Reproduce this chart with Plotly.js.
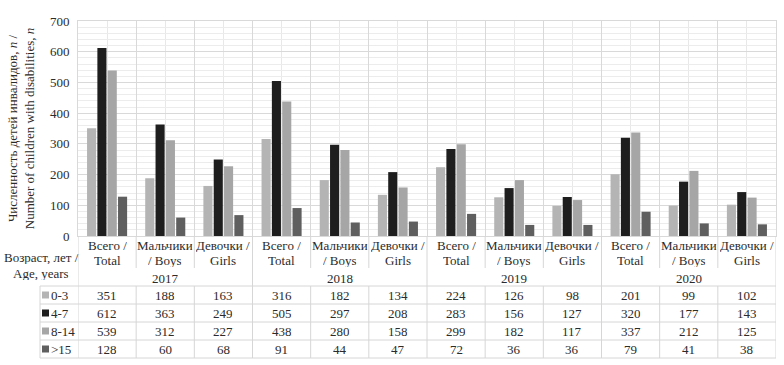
<!DOCTYPE html>
<html><head><meta charset="utf-8">
<script src="https://cdn.plot.ly/plotly-3.0.1.min.js"></script>
<style>html,body{margin:0;padding:0;background:#fff}</style>
</head><body><div id="chart" style="width:784px;height:365px"></div>
<script>
// ---- data ----
const years = ['2017', '2018', '2019', '2020'];
const groupTop = ['Всего /', 'Мальчики', 'Девочки /'];
const groupBottom = ['Total', '/ Boys', 'Girls'];
const seriesNames = ['0-3', '4-7', '8-14', '&gt;15'];
const age0_3  = [351, 188, 163, 316, 182, 134, 224, 126, 98, 201, 99, 102];
const age4_7  = [612, 363, 249, 505, 297, 208, 283, 156, 127, 320, 177, 143];
const age8_14 = [539, 312, 227, 438, 280, 158, 299, 182, 117, 337, 212, 125];
const age15   = [128, 60, 68, 91, 44, 47, 72, 36, 36, 79, 41, 38];
const yTicks = [0, 100, 200, 300, 400, 500, 600, 700];

// ---- styling / layout ----
const series = [age0_3, age4_7, age8_14, age15];
const colors = ['#b4b4b4', '#1e1e1e', '#a6a6a6', '#5f5f5f'];
const FONT = 'Liberation Serif';
const TXT = '#2b2b2b';
const LINE = '#d6d6d6';
const W = 784, H = 365, L = 78, R = 776, T = 21, B = 236;
const nCat = years.length * groupTop.length;
const catIdx = Array.from({length: nCat}, (_, i) => i);
const py = p => (B - p) / (B - T);
const pxX = p => (p - L) / (R - L);

const traces = series.map((vals, s) => ({
  type: 'bar', x: catIdx, y: vals, name: seriesNames[s],
  marker: {color: colors[s], line: {width: 0}}, hoverinfo: 'y'
}));

const shapes = [];
const annotations = [];
const rowLines = [286, 304, 322, 340, 358];
const rowCenters = rowLines.slice(0, 4).map((v, i) => (v + rowLines[i + 1]) / 2);
const line = (xref, x0, x1, y0, y1) => shapes.push({type: 'line', xref: xref, yref: 'paper',
  x0: x0, x1: x1, y0: py(y0), y1: py(y1), line: {color: LINE, width: 1}});

rowLines.forEach(y => line('paper', pxX(40), 1, y, y));
line('paper', pxX(40), pxX(40), 286, 358);
for (let b = 0; b <= nCat; b++) {
  const x = b - 0.5;
  if (b % 3 === 0) line('x', x, x, 236, 358);
  else { line('x', x, x, 236, 268); line('x', x, x, 286, 358); }
}

const ann = (o) => annotations.push(Object.assign({showarrow: false, yref: 'paper', xanchor: 'center',
  font: {family: FONT, size: 13, color: TXT}, yanchor: 'middle', height: 14, borderpad: 0}, o));

catIdx.forEach(i => {
  ann({xref: 'x', x: i, y: py(245), text: groupTop[i % 3]});
  ann({xref: 'x', x: i, y: py(260), text: groupBottom[i % 3]});
});
years.forEach((yr, j) => ann({xref: 'x', x: j * 3 + 1, y: py(278), text: yr}));
series.forEach((vals, s) => {
  vals.forEach((v, i) => ann({xref: 'x', x: i, y: py(rowCenters[s]), text: String(v)}));
  ann({xref: 'paper', x: pxX(50), xanchor: 'left', y: py(rowCenters[s]), text: seriesNames[s]});
  shapes.push({type: 'rect', xref: 'paper', yref: 'paper', x0: pxX(42), x1: pxX(49),
    y0: py(rowCenters[s] + 3.5), y1: py(rowCenters[s] - 3.5), fillcolor: colors[s], line: {width: 0}});
});
ann({xref: 'paper', x: pxX(41), y: py(257), text: 'Возраст, лет /'});
ann({xref: 'paper', x: pxX(41), y: py(273), text: 'Age, years'});

const layout = {
  width: W, height: H,
  margin: {l: L, r: W - R, t: T, b: H - B, pad: 0},
  paper_bgcolor: '#ffffff', plot_bgcolor: '#ffffff',
  showlegend: false,
  barmode: 'group', bargap: 0.29, bargroupgap: 0.12,
  font: {family: FONT, size: 13, color: TXT},
  xaxis: {
    type: 'linear', range: [-0.5, nCat - 0.5], tick0: -0.5, dtick: 1,
    showgrid: true, gridcolor: '#d9d9d9', showticklabels: false, ticks: '',
    zeroline: false, showline: true, linecolor: '#d9d9d9', mirror: true,
    minor: {tick0: 0, dtick: 0.5, showgrid: true, gridcolor: '#e8e8e8', ticks: ''},
    fixedrange: true
  },
  yaxis: {
    range: [0, 700], tickvals: yTicks, ticktext: yTicks.map(String),
    showgrid: true, gridcolor: '#d9d9d9', zeroline: false, ticks: '',
    showline: true, linecolor: '#d9d9d9', mirror: true,
    minor: {dtick: 20, showgrid: true, gridcolor: '#ececec', ticks: ''},
    tickfont: {family: FONT, size: 13, color: TXT},
    ticklabelstandoff: 5,
    title: {text: 'Численность детей инвалидов, <i>n</i> /<br>Number of children with disabilities, <i>n</i>',
      font: {family: FONT, size: 13, color: TXT}, standoff: 12},
    fixedrange: true
  },
  shapes: shapes, annotations: annotations
};
Plotly.newPlot('chart', traces, layout, {displayModeBar: false, staticPlot: true});
</script></body></html>
